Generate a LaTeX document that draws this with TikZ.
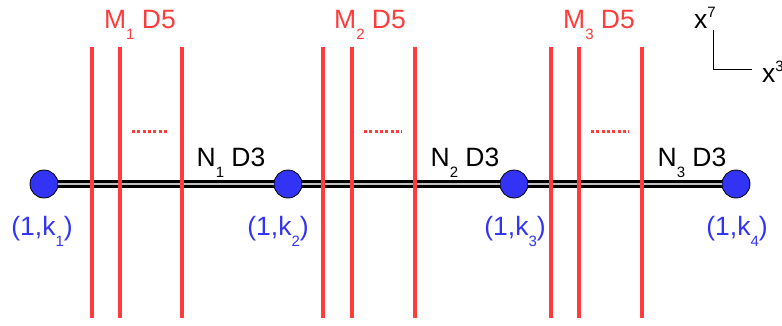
\documentclass[tikz,border=0pt]{standalone}
\usepackage{fontspec}
\setmainfont{Liberation Sans}
\definecolor{dred}{HTML}{FF3B3B}
\definecolor{dblue}{HTML}{3333F5}
\newcommand{\sbs}[1]{\raisebox{-11pt}{\fontsize{15}{15}\selectfont #1}}
\newcommand{\sps}[1]{\raisebox{11pt}{\fontsize{15}{15}\selectfont #1}}
\begin{document}
\begin{tikzpicture}[x=1pt,y=-1pt,
  brane/.style={draw=dred,line width=3.8pt},
  dots/.style={draw=dred,line width=3pt,dash pattern=on 3pt off 2.3pt},
  dot/.style={circle,fill=dblue,draw=black,line width=0.8pt,minimum size=28pt,inner sep=0pt},
  lbl/.style={font=\fontsize{26.5}{30}\selectfont,inner sep=0pt},
  rlbl/.style={lbl,text=dred},
  blbl/.style={lbl,text=dblue},
  d3/.style={draw=black,line width=3.4pt,double=white!75!black,double distance=2pt}]
\useasboundingbox (0,0) rectangle (782,325);
% D3 brane endpoints
\node[dot] (p1) at (44,184) {};
\node[dot] (p2) at (288,184) {};
\node[dot] (p3) at (514,184) {};
\node[dot] (p4) at (736,184) {};
\draw[d3] (p1) -- (p2);
\draw[d3] (p2) -- (p3);
\draw[d3] (p3) -- (p4);
% red D5
\foreach \x in {92,120,182,323,352,415,551,579,642}
  \draw[brane] (\x,47) -- (\x,318);
\draw[dots] (132,131) -- (169,131);
\draw[dots] (364,131) -- (402,131);
\draw[dots] (591,131) -- (629,131);
% labels
\node[rlbl,anchor=base] (m1) at (140,28) {M\sbs{1} D5};
\node[rlbl,anchor=base] (m2) at (370,28) {M\sbs{2} D5};
\node[rlbl,anchor=base] (m3) at (599,28) {M\sbs{3} D5};
\node[lbl,anchor=base] (n1) at (231,166) {N\sbs{1} D3};
\node[lbl,anchor=base] (n2) at (465,166) {N\sbs{2} D3};
\node[lbl,anchor=base] (n3) at (692,166) {N\sbs{3} D3};
\node[blbl,anchor=base] (k1) at (42,235) {(1,k\sbs{1})};
\node[blbl,anchor=base] (k2) at (278,235) {(1,k\sbs{2})};
\node[blbl,anchor=base] (k3) at (515,235) {(1,k\sbs{3})};
\node[blbl,anchor=base] (k4) at (737,235) {(1,k\sbs{4})};
% axes
\coordinate (ax0) at (713,69);
\coordinate (ay) at (713,30);
\coordinate (axx) at (752,69);
\draw[line width=0.9pt] (ay) -- (ax0) -- (axx);
\node[lbl,anchor=base west] (x7) at (694,28) {x\sps{7}};
\node[lbl,anchor=base west] (x3) at (762,82) {x\sps{3}};
\end{tikzpicture}
\end{document}
